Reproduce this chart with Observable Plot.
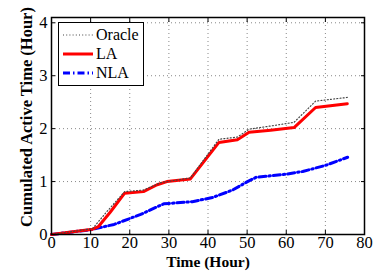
<!DOCTYPE html>
<html>
<head>
<meta charset="utf-8">
<script src="https://cdn.jsdelivr.net/npm/d3@7"></script>
<script src="https://cdn.jsdelivr.net/npm/@observablehq/plot@0.6"></script>
<style>
  html, body { margin: 0; padding: 0; background: #fff; }
  #wrap { position: relative; width: 384px; height: 272px; }
  #legend { position: absolute; left: 58px; top: 22px; width: 86px; height: 64px;
    border: 1px solid #000; background: #fff; font-family: 'Liberation Serif', 'Times New Roman', serif; font-size: 16px; box-sizing: border-box; }
  .row { position: absolute; left: 4px; height: 18px; display: flex; align-items: center; line-height: 18px; }
  .row svg { margin-right: 3px; }
</style>
</head>
<body>
<div id="wrap"><div id="legend"></div></div>
<script>
// Data
const seriesNames = ["Oracle", "LA", "NLA"];
const oracleHours = [0, 10.5, 14, 18.7, 23.5, 28, 35.5, 42.8, 47.5, 50.5, 56, 62, 67.5, 75.6];
const oracleValues = [0, 0.11, 0.42, 0.81, 0.84, 0.98, 1.07, 1.80, 1.84, 1.99, 2.05, 2.12, 2.52, 2.59];
const laHours = [0, 10.5, 12, 15, 18.7, 23.5, 27, 29.5, 35.5, 42.8, 47.5, 50.5, 56, 62, 67.5, 75.6];
const laValues = [0, 0.1, 0.15, 0.42, 0.78, 0.81, 0.94, 1.0, 1.05, 1.74, 1.79, 1.93, 1.97, 2.02, 2.40, 2.47];
const nlaHours = [0, 10, 16, 22.8, 28.7, 36, 41.2, 46.3, 50.1, 52.3, 60, 64.2, 70.2, 75.7];
const nlaValues = [0, 0.09, 0.19, 0.38, 0.58, 0.62, 0.70, 0.84, 1.0, 1.08, 1.14, 1.19, 1.31, 1.46];
const xTicks = [0, 10, 20, 30, 40, 50, 60, 70, 80];
const yTicks = [0, 1, 2, 3, 4];

const toRows = (hs, vs) => hs.map((h, i) => ({h, v: vs[i]}));
const oracle = toRows(oracleHours, oracleValues);
const la = toRows(laHours, laValues);
const nla = toRows(nlaHours, nlaValues);

const styles = {
  Oracle: {stroke: "#444", strokeWidth: 1.2, strokeDasharray: "1,2.2"},
  LA: {stroke: "#ff0000", strokeWidth: 3},
  NLA: {stroke: "#0000ff", strokeWidth: 3, strokeDasharray: "7,3,1.5,3"}
};

const font = "'Liberation Serif', 'Times New Roman', serif";
const chart = Plot.plot({
  width: 384, height: 272,
  marginLeft: 51, marginRight: 20, marginTop: 17, marginBottom: 38,
  style: {fontFamily: font, fontSize: "16px", color: "#000", background: "#fff", position: "absolute", left: 0, top: 0},
  x: {domain: [0, 80], ticks: xTicks},
  y: {domain: [0, 4.1], ticks: yTicks},
  marks: [
    Plot.gridX(xTicks.slice(1, -1), {stroke: "#888", strokeOpacity: 1, strokeDasharray: "1,3", strokeWidth: 1}),
    Plot.gridY(yTicks.slice(1), {stroke: "#888", strokeOpacity: 1, strokeDasharray: "1,3", strokeWidth: 1}),
    Plot.line(nla, {x: "h", y: "v", ...styles.NLA}),
    Plot.line(la, {x: "h", y: "v", ...styles.LA}),
    Plot.line(oracle, {x: "h", y: "v", ...styles.Oracle}),
    Plot.frame({stroke: "#000", strokeWidth: 1.5}),
    Plot.axisX(xTicks, {anchor: "bottom", tickSize: -4, tickPadding: 6, tickFormat: "d", label: null, fontSize: 16.5, fontFamily: font}),
    Plot.axisX(xTicks, {anchor: "top", tickSize: -4, text: null, label: null}),
    Plot.axisY(yTicks, {anchor: "left", tickSize: -4, tickPadding: 8, tickFormat: "d", label: null, fontSize: 16.5, fontFamily: font}),
    Plot.axisY(yTicks, {anchor: "right", tickSize: -4, text: null, label: null}),
    Plot.text(["Time (Hour)"], {frameAnchor: "bottom", textAnchor: "middle", lineAnchor: "middle", dy: 28, fontWeight: "bold", fontSize: 15.5, fontFamily: font}),
    Plot.text(["Cumulated Active Time (Hour)"], {frameAnchor: "left", textAnchor: "middle", dx: -25, dy: -9, rotate: -90, fontWeight: "bold", fontSize: 16.5, fontFamily: font})
  ]
});
document.getElementById("wrap").prepend(chart);

// Legend
const legend = document.getElementById("legend");
seriesNames.forEach((name, i) => {
  const s = styles[name];
  const row = document.createElement("div");
  row.className = "row";
  row.style.top = (3 + i * 19) + "px";
  row.innerHTML = `<svg width="30" height="10"><line x1="0" x2="30" y1="5" y2="5" stroke="${s.stroke}" stroke-width="${s.strokeWidth}" stroke-dasharray="${s.strokeDasharray || ""}"/></svg><span>${name}</span>`;
  legend.appendChild(row);
});
</script>
</body>
</html>
